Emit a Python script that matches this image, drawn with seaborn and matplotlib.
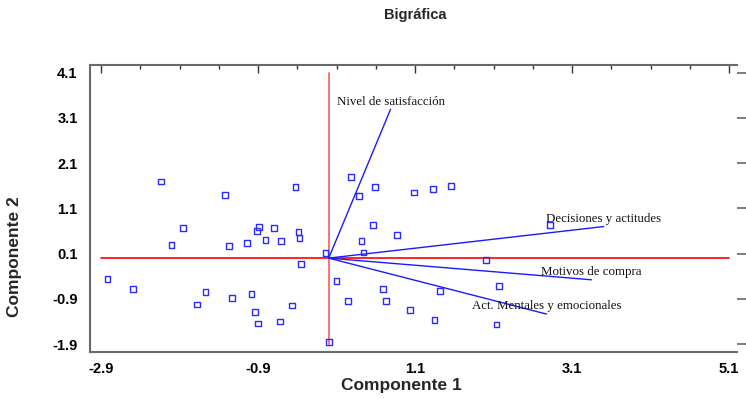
import matplotlib
matplotlib.use("Agg")
import matplotlib.pyplot as plt
import seaborn as sns
import pandas as pd
from matplotlib.ticker import MultipleLocator, FixedLocator

# Observation scores on the first two components
comp1 = [-2.137, -1.318, -1.853, -2.000, -1.271, -1.038, -0.421, 0.286, 0.592, 0.385,
         -0.889, -0.914, -0.694, -0.383, -0.371, -0.803, -0.605, 0.563, 0.868, 0.419,
         0.444, -0.039, 1.089, 1.327, 1.560, 2.816, -2.815, -2.493, -1.567, -1.678,
         -1.229, -0.982, -0.350, -0.940, -0.901, -0.469, -0.618, 0.006, 0.101, 0.694,
         0.244, 0.728, 2.002, 1.420, 1.038, 1.348, 2.171, 2.138]
comp2 = [1.692, 1.392, 0.669, 0.287, 0.265, 0.338, 1.568, 1.789, 1.568, 1.376,
         0.691, 0.603, 0.669, 0.580, 0.442, 0.404, 0.382, 0.736, 0.515, 0.382,
         0.124, 0.117, 1.449, 1.524, 1.590, 0.736, -0.464, -0.685, -0.751, -1.025,
         -0.884, -0.795, -0.133, -1.193, -1.445, -1.047, -1.400, -1.849, -0.508, -0.685,
         -0.950, -0.950, -0.044, -0.722, -1.149, -1.370, -0.619, -1.467]

# Variable loadings (vector tips)
variables = ["Nivel de satisfacción", "Decisiones y actitudes",
             "Motivos de compra", "Act. Mentales y emocionales"]
load1 = [0.788, 3.504, 3.347, 2.774]
load2 = [3.291, 0.698, -0.479, -1.237]

xticks = [-2.9, -0.9, 1.1, 3.1, 5.1]
yticks = [-1.9, -0.9, 0.1, 1.1, 2.1, 3.1, 4.1]

sns.set_theme(style="white")
plt.rcParams["font.family"] = ["Liberation Sans", "DejaVu Sans"]

fig = plt.figure(figsize=(7.46, 3.99), dpi=100)
ax = fig.add_axes([90 / 746, 1 - 352 / 399, (737 - 90) / 746, (352 - 65) / 399])

# Reference axes through the origin
ax.plot([xticks[0], xticks[-1]], [0, 0], color="#ff0000", lw=1.2, zorder=1)
ax.plot([0, 0], [yticks[0], yticks[-1]], color="#ff7070", lw=1.4, zorder=1)

scores = pd.DataFrame({"Componente 1": comp1, "Componente 2": comp2})
sns.scatterplot(data=scores, x="Componente 1", y="Componente 2", ax=ax,
                marker="s", s=16, facecolor="none", edgecolor="#2b2bff",
                linewidth=1.0, zorder=3)

for name, a, b in zip(variables, load1, load2):
    ax.plot([0, a], [0, b], color="#1a1aff", lw=1.0, zorder=2)
    ax.annotate(name, xy=(a, b), xytext=(0, 5.5), textcoords="offset points",
                ha="center", va="center", fontsize=9.3,
                family=["Liberation Serif", "DejaVu Serif"], color="#111111",
                zorder=4)

ax.set_xlim(-3.04, 5.20)
ax.set_ylim(-2.076, 4.27)
ax.xaxis.set_major_locator(FixedLocator(xticks))
ax.xaxis.set_minor_locator(MultipleLocator(0.5, offset=0.1))
ax.yaxis.set_major_locator(FixedLocator(yticks))
ax.set_xticklabels([f"{t:g}" for t in xticks])
ax.set_yticklabels([f"{t:g}" for t in yticks])

for s in ax.spines.values():
    s.set_color("#6a6a6a")
    s.set_linewidth(1.5)
ax.spines["right"].set_visible(False)

ax.tick_params(axis="both", which="both", direction="in", colors="#333333",
               labelcolor="black", top=True, right=False)
ax.tick_params(axis="x", which="major", length=6, width=1, pad=7)
ax.tick_params(axis="x", which="minor", length=3, width=1)
ax.tick_params(axis="y", which="major", length=4, width=1, pad=9)
for lab in ax.get_xticklabels() + ax.get_yticklabels():
    lab.set_fontweight("bold")
    lab.set_fontsize(10.5)

# Right-hand tick marks only, pointing outward
sec = ax.secondary_yaxis("right")
sec.set_yticks(yticks)
sec.tick_params(direction="out", length=6.5, width=1.2, colors="#666666",
                labelright=False)
sec.spines["right"].set_visible(False)

ax.set_xlabel("Componente 1", fontsize=12.5, fontweight="bold")
ax.set_ylabel("Componente 2", fontsize=12.5, fontweight="bold")
ax.xaxis.set_label_coords(0.481, -0.09)
ax.yaxis.set_label_coords(-0.105, 0.331)

fig.text(0.556, 1 - 15 / 399, "Bigráfica", ha="center", va="center",
         fontsize=10.5, fontweight="bold")

fig.savefig("out.png", dpi=100)
